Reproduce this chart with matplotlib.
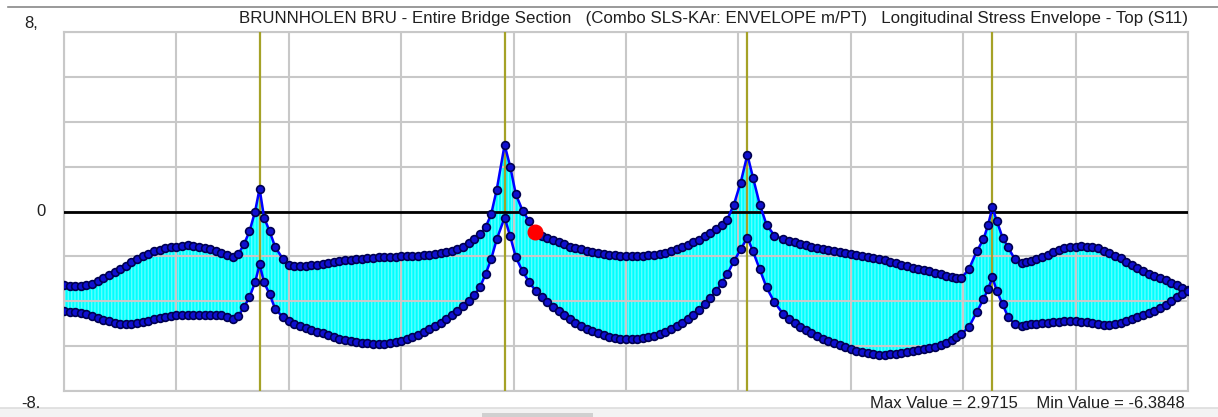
import numpy as np
import matplotlib.pyplot as plt
from matplotlib.patches import Rectangle

plt.rcParams['font.family'] = ['Liberation Sans', 'DejaVu Sans']
plt.rcParams['hatch.linewidth'] = 1.0

TITLE = ("BRUNNHOLEN BRU - Entire Bridge Section   (Combo SLS-KAr: ENVELOPE m/PT)   "
         "Longitudinal Stress Envelope - Top (S11)")

# node positions along the bridge (grid units 0..10)
x = [0.0, 0.05, 0.1, 0.15, 0.2, 0.25, 0.3, 0.35, 0.4, 0.45, 0.5, 0.55, 0.6, 0.65, 0.7,
     0.75, 0.8, 0.85, 0.9, 0.95, 1.0, 1.05, 1.1, 1.15, 1.2, 1.25, 1.3, 1.35, 1.4, 1.45, 1.5,
     1.55, 1.6, 1.65, 1.7, 1.74, 1.78, 1.83, 1.88, 1.95,
     2.0, 2.05, 2.1, 2.15, 2.2, 2.25, 2.3, 2.35, 2.4, 2.45, 2.5, 2.55, 2.6, 2.65, 2.7,
     2.75, 2.8, 2.85, 2.9, 2.95, 3.0, 3.05, 3.1, 3.15, 3.2, 3.25, 3.3, 3.35, 3.4, 3.45,
     3.5, 3.55, 3.6, 3.65, 3.7,
     3.75, 3.8, 3.85, 3.92, 3.97, 4.02, 4.08, 4.14, 4.2,
     4.25, 4.3, 4.35, 4.4, 4.45, 4.5, 4.55, 4.6, 4.65, 4.7, 4.75, 4.8, 4.85, 4.9, 4.95,
     5.0, 5.05, 5.1, 5.15, 5.2, 5.25, 5.3, 5.35, 5.4, 5.45, 5.5, 5.55, 5.6, 5.65, 5.7,
     5.75, 5.8, 5.85, 5.9,
     5.96, 6.02, 6.08, 6.13, 6.19, 6.25, 6.32, 6.4,
     6.45, 6.5, 6.55, 6.6, 6.65, 6.7, 6.75, 6.8, 6.85, 6.9, 6.95, 7.0, 7.05, 7.1, 7.15,
     7.2, 7.25, 7.3, 7.35, 7.4, 7.45, 7.5, 7.55, 7.6, 7.65, 7.7, 7.75, 7.8, 7.85, 7.9,
     7.94, 7.98,
     8.05, 8.12, 8.18, 8.22, 8.26, 8.3, 8.35, 8.4, 8.46, 8.52,
     8.56, 8.6, 8.65, 8.7, 8.75, 8.8, 8.85, 8.9, 8.95, 9.0, 9.05, 9.1, 9.15, 9.2, 9.25,
     9.3, 9.35, 9.4, 9.45, 9.5, 9.55, 9.6, 9.65, 9.7, 9.75, 9.8, 9.85, 9.9, 9.95, 10.0]

s_max = [-3.29, -3.31, -3.33, -3.32, -3.29, -3.21, -3.11, -2.98, -2.84, -2.71, -2.58, -2.42,
         -2.27, -2.13, -2.0, -1.88, -1.78, -1.7, -1.64, -1.6, -1.56, -1.53, -1.51, -1.53,
         -1.56, -1.62, -1.69, -1.78, -1.87, -1.96, -2.04,
         -1.91, -1.47, -0.89, 0.0, 1.02, -0.27, -0.89, -1.6, -2.13,
         -2.4, -2.43, -2.44, -2.42, -2.4, -2.38, -2.36, -2.31, -2.27, -2.22, -2.18, -2.15,
         -2.13, -2.11, -2.09, -2.06, -2.04, -2.04, -2.04, -2.02, -2.0, -2.0, -2.0, -1.98,
         -1.96, -1.94, -1.91, -1.87, -1.82, -1.76, -1.69, -1.56, -1.42, -1.24, -1.02,
         -0.71, -0.13, 0.98, 2.97, 2.0, 0.76, 0.04, -0.44, -0.93,
         -1.07, -1.2, -1.29, -1.38, -1.47, -1.56, -1.63, -1.69, -1.76, -1.82, -1.87, -1.91,
         -1.94, -1.96, -1.98, -2.0, -2.0, -2.0, -1.98, -1.96, -1.94, -1.91, -1.85, -1.78,
         -1.69, -1.6, -1.49, -1.38, -1.25, -1.11, -0.96, -0.8, -0.6, -0.36,
         0.31, 1.29, 2.53, 1.51, 0.31, -0.58, -1.07, -1.24,
         -1.31, -1.38, -1.45, -1.51, -1.58, -1.64, -1.69, -1.73, -1.78, -1.82, -1.87, -1.91,
         -1.96, -2.0, -2.04, -2.09, -2.13, -2.18, -2.24, -2.31, -2.38, -2.44, -2.51, -2.58,
         -2.62, -2.67, -2.73, -2.8, -2.87, -2.93, -2.96, -2.98,
         -2.58, -1.78, -1.24, -0.62, 0.18, -0.44, -1.16, -1.6, -2.13, -2.31,
         -2.27, -2.22, -2.13, -2.04, -1.93, -1.82, -1.73, -1.64, -1.6, -1.56, -1.55, -1.56,
         -1.6, -1.64, -1.75, -1.87, -1.98, -2.09, -2.24, -2.4, -2.53, -2.67, -2.78, -2.89,
         -2.98, -3.07, -3.18, -3.29, -3.4, -3.51]

s_min = [-4.44, -4.46, -4.49, -4.53, -4.58, -4.67, -4.76, -4.83, -4.89, -4.96, -5.02, -5.03,
         -5.02, -4.98, -4.93, -4.86, -4.8, -4.75, -4.71, -4.66, -4.62, -4.62, -4.62, -4.62,
         -4.62, -4.62, -4.62, -4.62, -4.62, -4.69, -4.8,
         -4.67, -4.27, -3.82, -3.16, -2.36, -3.16, -3.69, -4.36, -4.71,
         -4.89, -5.0, -5.11, -5.2, -5.29, -5.36, -5.42, -5.51, -5.6, -5.67, -5.73, -5.78,
         -5.82, -5.85, -5.87, -5.89, -5.91, -5.9, -5.87, -5.83, -5.78, -5.7, -5.6, -5.5,
         -5.38, -5.25, -5.11, -4.96, -4.8, -4.63, -4.44, -4.23, -4.0, -3.72, -3.38,
         -2.8, -2.13, -1.24, -0.27, -1.11, -2.04, -2.67, -3.16, -3.56,
         -3.8, -4.04, -4.24, -4.44, -4.62, -4.8, -4.96, -5.11, -5.22, -5.33, -5.42, -5.51,
         -5.58, -5.64, -5.67, -5.69, -5.7, -5.69, -5.65, -5.6, -5.54, -5.47, -5.36, -5.24,
         -5.11, -4.98, -4.8, -4.62, -4.38, -4.13, -3.85, -3.56, -3.2, -2.8,
         -2.22, -1.69, -1.16, -1.78, -2.58, -3.38, -4.04, -4.58,
         -4.8, -4.98, -5.14, -5.29, -5.43, -5.56, -5.67, -5.78, -5.87, -5.96, -6.05, -6.13,
         -6.2, -6.27, -6.32, -6.36, -6.38, -6.38, -6.37, -6.36, -6.32, -6.27, -6.22, -6.18,
         -6.13, -6.09, -6.03, -5.96, -5.85, -5.73, -5.6, -5.47,
         -5.16, -4.49, -3.91, -3.47, -2.93, -3.56, -4.13, -4.71, -5.02, -5.11,
         -5.07, -5.02, -5.0, -4.98, -4.96, -4.93, -4.91, -4.89, -4.89, -4.89, -4.91, -4.93,
         -4.98, -5.02, -5.05, -5.07, -5.03, -4.98, -4.89, -4.8, -4.71, -4.62, -4.53, -4.44,
         -4.31, -4.18, -4.0, -3.82, -3.69, -3.56]

supports = [1.74, 3.92, 6.08, 8.26]
probe = (4.19, -0.93)
max_val, min_val = 2.9715, -6.3848

W, H = 1218, 417
fig = plt.figure(figsize=(W / 100, H / 100), dpi=100)
fig.patch.set_facecolor("white")
ax = fig.add_axes([64 / W, (H - 391) / H, 1124 / W, 359 / H])

# envelope fill: cyan with fine vertical stripes
ax.fill_between(x, s_min, s_max, facecolor="#00ffff", edgecolor="#5cffff",
                hatch="|||||", lw=0, zorder=1)

ax.set_xlim(0, 10); ax.set_ylim(-8, 8)
ax.set_xticks(np.arange(0, 11, 1)); ax.set_yticks(np.arange(-8, 9, 2))
ax.grid(True, color="#c8c8c8", lw=1.5)
ax.set_axisbelow(False)   # grid shows through the fill, as in the original
ax.tick_params(length=0, labelbottom=False, labelleft=False)
for sp in ax.spines.values():
    sp.set_color("#c8c8c8"); sp.set_linewidth(1.5)

# supports
for s in supports:
    ax.axvline(s, color="#a5a227", lw=1.6, zorder=3)
# zero line
ax.axhline(0, color="black", lw=2, zorder=3)

for y in (s_max, s_min):
    ax.plot(x, y, color="#0000ff", lw=1.8, zorder=4)
    ax.plot(x, y, ls="none", marker="o", ms=5.6, mfc="#1010d0", mec="#000050",
            mew=1.2, zorder=5)
ax.plot(*probe, marker="o", ms=10.5, color="#ff0000", mec="#ff0000", zorder=6)

# window chrome: top rule, bottom strip with scroll thumb
fig.add_artist(plt.Line2D([8 / W, 1], [1 - 7 / H, 1 - 7 / H], color="#888888", lw=1.2))
fig.add_artist(Rectangle((0, 0), 1, 9 / H, color="#f3f3f3", lw=0))
fig.add_artist(plt.Line2D([0, 1], [9 / H, 9 / H], color="#dddddd", lw=1.2))
fig.add_artist(Rectangle((482 / W, 0), 111 / W, 4 / H, color="#d0d0d0", lw=0))

fig.text(1188 / W, 1 - 18 / H, TITLE, ha="right", va="center", fontsize=12.15, color="#202020")
fig.text(1185 / W, 1 - 404 / H, f"Max Value = {max_val}    Min Value = {min_val}",
         ha="right", va="center", fontsize=12, color="#202020")
fig.text(38 / W, 1 - 23 / H, "8,", ha="right", va="center", fontsize=12, color="#202020")
fig.text(46 / W, 1 - 212 / H, "0", ha="right", va="center", fontsize=12, color="#202020")
fig.text(41 / W, 1 - 404 / H, "-8.", ha="right", va="center", fontsize=12, color="#202020")

fig.savefig("out.png", dpi=100)
